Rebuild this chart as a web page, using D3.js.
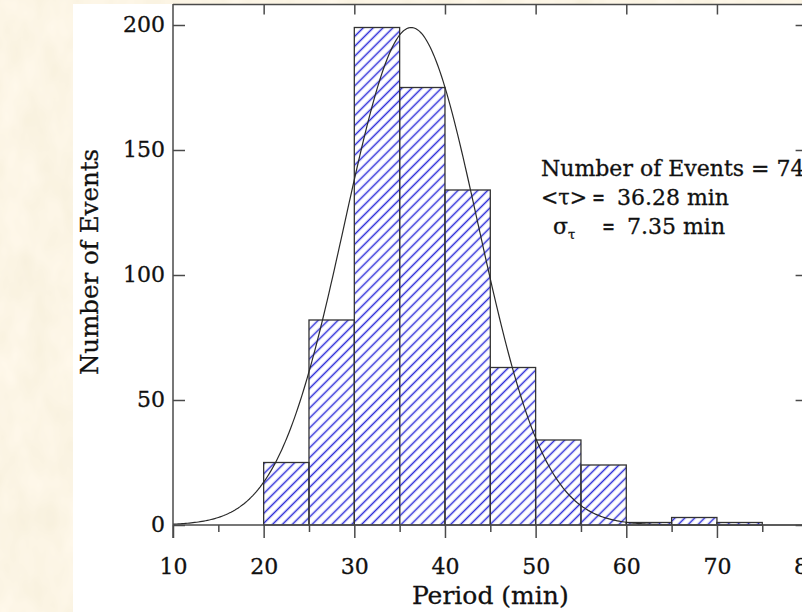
<!DOCTYPE html>
<html>
<head>
<meta charset="utf-8">
<script src="https://cdn.jsdelivr.net/npm/d3@7"></script>
<style>
  html, body { margin: 0; padding: 0; background: #f6e4c0; }
  svg { display: block; }
  text { font-family: "DejaVu Serif", "Liberation Serif", serif; fill: #111; stroke: #111; stroke-width: 0.3px; }
</style>
</head>
<body>
<svg id="chart" width="802" height="612"></svg>
<script>
// Histogram of oscillation periods (5-minute bins) with a Gaussian overlay
const binStarts = [20, 25, 30, 35, 40, 45, 50, 55, 60, 65, 70];
const binCounts = [25, 82, 199, 175, 134, 63, 34, 24, 1, 3, 1];
const binWidth = 5;

const xTickValues = [10, 20, 30, 40, 50, 60, 70, 80];
const xMinorValues = [15, 25, 35, 45, 55, 65, 75];
const yTickValues = [0, 50, 100, 150, 200];

// Summary statistics shown in the annotation
const nEvents = 741;
const meanPeriod = 36.28;
const sigmaPeriod = 7.35;
const fitPeak = 199;

const svg = d3.select("#chart");
const W = 802, H = 612;

// parchment backdrop
const defs = svg.append("defs");
const paper = defs.append("filter").attr("id", "paper")
  .attr("x", 0).attr("y", 0).attr("width", 1).attr("height", 1);
paper.append("feTurbulence").attr("type", "fractalNoise")
  .attr("baseFrequency", "0.035 0.02").attr("numOctaves", 3).attr("seed", 7);
paper.append("feColorMatrix").attr("type", "matrix")
  .attr("values", "0.10 0 0 0 0.92  0.10 0 0 0 0.86  0.16 0 0 0 0.70  0 0 0 0 1");

svg.append("rect").attr("width", W).attr("height", H).attr("filter", "url(#paper)");
svg.append("rect").attr("x", 73).attr("y", 4).attr("width", W - 73).attr("height", H - 4)
  .attr("fill", "#ffffff");

// diagonal hatch fill
const hatch = defs.append("pattern").attr("id", "hatch")
  .attr("patternUnits", "userSpaceOnUse")
  .attr("width", 7).attr("height", 7)
  .attr("patternTransform", "rotate(45)");
hatch.append("line").attr("x1", 3.5).attr("y1", -1).attr("x2", 3.5).attr("y2", 8)
  .attr("stroke", "#2e2ed8").attr("stroke-width", 1.5);

const x = d3.scaleLinear().domain([10, 80]).range([173, 807.6]);
const y = d3.scaleLinear().domain([0, 200]).range([525, 25]);

const axisColor = "#4a4a4a";
const plot = svg.append("g");

// bars
const bins = binStarts.map((s, i) => ({ x0: s, x1: s + binWidth, n: binCounts[i] }));
plot.selectAll("rect.bar").data(bins).join("rect")
  .attr("class", "bar")
  .attr("x", d => x(d.x0))
  .attr("y", d => y(d.n))
  .attr("width", d => x(d.x1) - x(d.x0))
  .attr("height", d => y(0) - y(d.n))
  .attr("fill", "url(#hatch)")
  .attr("stroke", "#333")
  .attr("stroke-width", 1.3);

// Gaussian curve from the stated mean and width
const curveX = d3.range(10, 80.001, 0.2);
const curve = curveX.map(v => [v, fitPeak * Math.exp(-((v - meanPeriod) ** 2) / (2 * sigmaPeriod ** 2))]);
plot.append("path")
  .attr("d", d3.line().x(d => x(d[0])).y(d => y(d[1]))(curve))
  .attr("fill", "none").attr("stroke", "#2a2a2a").attr("stroke-width", 1.2);

// bottom axis: labelled major ticks hanging below the zero line
const xAxis = svg.append("g").attr("transform", `translate(0,${y(0)})`)
  .call(d3.axisBottom(x).tickValues(xTickValues).tickSize(13).tickPadding(20.5)
    .tickFormat(d3.format("d")));
xAxis.select(".domain").remove();
xAxis.selectAll("line").attr("stroke", axisColor).attr("stroke-width", 1.5);
xAxis.selectAll("text").attr("font-size", 22).attr("font-family", "DejaVu Serif").attr("fill", "#111");

const xMinor = svg.append("g").attr("transform", `translate(0,${y(0)})`)
  .call(d3.axisBottom(x).tickValues(xMinorValues).tickSize(7).tickFormat(""));
xMinor.select(".domain").remove();
xMinor.selectAll("line").attr("stroke", axisColor).attr("stroke-width", 1.5);

// top axis: unlabelled inward ticks
const xTop = svg.append("g").attr("transform", "translate(0,4.5)")
  .call(d3.axisTop(x).tickValues(xTickValues.slice(1)).tickSize(-10).tickFormat(""));
xTop.select(".domain").remove();
xTop.selectAll("line").attr("stroke", axisColor).attr("stroke-width", 1.5);

// left axis with inward ticks
const yAxis = svg.append("g").attr("transform", `translate(${x(10)},0)`)
  .call(d3.axisLeft(y).tickValues(yTickValues).tickSize(-12).tickPadding(8));
yAxis.select(".domain").remove();
yAxis.selectAll("line").attr("stroke", axisColor).attr("stroke-width", 1.5);
yAxis.selectAll("text").attr("font-size", 22).attr("font-family", "DejaVu Serif")
  .attr("fill", "#111").attr("dy", "0.3em");

// right axis ticks
const yRight = svg.append("g").attr("transform", `translate(${x(80)},0)`)
  .call(d3.axisRight(y).tickValues(yTickValues).tickSize(-12).tickFormat(""));
yRight.select(".domain").remove();
yRight.selectAll("line").attr("stroke", axisColor).attr("stroke-width", 1.5);

// frame lines
svg.append("line").attr("x1", x(10)).attr("x2", W).attr("y1", y(0)).attr("y2", y(0))
  .attr("stroke", axisColor).attr("stroke-width", 1.5);
svg.append("line").attr("x1", x(10)).attr("x2", x(10)).attr("y1", 4).attr("y2", y(0) + 13)
  .attr("stroke", axisColor).attr("stroke-width", 1.5);
svg.append("line").attr("x1", x(10)).attr("x2", W).attr("y1", 4.5).attr("y2", 4.5)
  .attr("stroke", axisColor).attr("stroke-width", 1.5);

// axis titles
svg.append("text").attr("x", (x(10) + x(80)) / 2).attr("y", 604)
  .attr("text-anchor", "middle").attr("font-size", 25).text("Period (min)");
svg.append("text").attr("transform", "translate(98,262) rotate(-90)")
  .attr("text-anchor", "middle").attr("font-size", 24.5).text("Number of Events");

// annotation
const note = svg.append("g").attr("font-size", 22);
note.append("text").attr("x", 541).attr("y", 176).text(`Number of Events = ${nEvents}`);
note.append("text").attr("x", 541).attr("y", 205)
  .attr("textLength", 46).attr("lengthAdjust", "spacingAndGlyphs").text("<τ>");
note.append("text").attr("x", 592).attr("y", 205)
  .attr("textLength", 13).attr("lengthAdjust", "spacingAndGlyphs").text("=");
note.append("text").attr("x", 617).attr("y", 205).text(`${meanPeriod.toFixed(2)} min`);
const sig = note.append("text").attr("x", 553).attr("y", 234);
sig.append("tspan").text("σ");
sig.append("tspan").attr("font-size", 13).attr("dy", 5).text("τ");
note.append("text").attr("x", 602).attr("y", 234)
  .attr("textLength", 13).attr("lengthAdjust", "spacingAndGlyphs").text("=");
note.append("text").attr("x", 627).attr("y", 234).text(`${sigmaPeriod.toFixed(2)} min`);
</script>
</body>
</html>
